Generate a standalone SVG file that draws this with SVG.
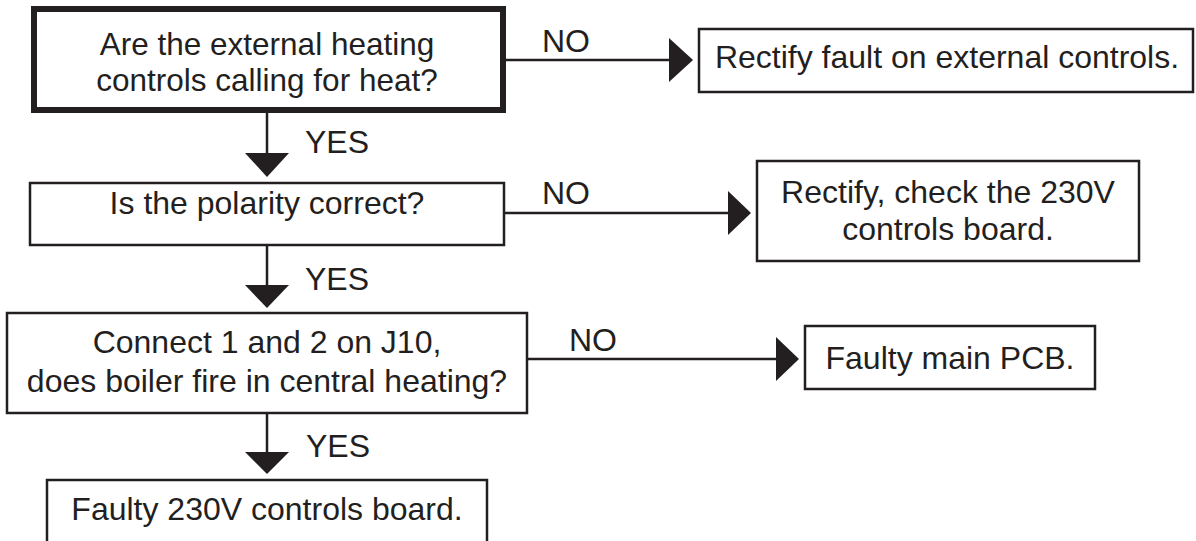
<svg xmlns="http://www.w3.org/2000/svg" width="1196" height="541" viewBox="0 0 1196 541">
<style>
  .box { fill: #ffffff; stroke: #231f20; stroke-width: 2.5; }
  .thick { fill: #ffffff; stroke: #231f20; stroke-width: 6; }
  .t { font-family: "Liberation Sans", Arial, sans-serif; font-size: 32px; fill: #231f20; }
  .c { text-anchor: middle; }
  .ln { stroke: #231f20; stroke-width: 2.5; fill: none; }
  .ah { fill: #231f20; stroke: none; }
</style>
<rect width="1196" height="541" fill="#ffffff"/>
<g id="connectors">
  <line class="ln" x1="267" y1="112" x2="267" y2="154"/>
  <polygon class="ah" points="245,153 289,153 267,177"/>
  <text class="t" x="305" y="153">YES</text>
  <line class="ln" x1="267" y1="245" x2="267" y2="286"/>
  <polygon class="ah" points="245,285 289,285 267,308"/>
  <text class="t" x="305" y="290">YES</text>
  <line class="ln" x1="267" y1="413" x2="267" y2="453"/>
  <polygon class="ah" points="245,452 289,452 267,474"/>
  <text class="t" x="306" y="457">YES</text>
  <line class="ln" x1="503" y1="60" x2="670" y2="60"/>
  <polygon class="ah" points="669,38 669,82 693,60"/>
  <text class="t" x="542" y="52">NO</text>
  <line class="ln" x1="504" y1="213" x2="729" y2="213"/>
  <polygon class="ah" points="728,191 728,235 751,213"/>
  <text class="t" x="542" y="204">NO</text>
  <line class="ln" x1="527" y1="359" x2="777" y2="359"/>
  <polygon class="ah" points="776,337 776,381 799,359"/>
  <text class="t" x="569" y="351">NO</text>
</g>
<g id="n1">
  <rect class="thick" x="34" y="9" width="469" height="101"/>
  <text class="t c" x="267" y="55" style="font-size:31.5px">Are the external heating</text>
  <text class="t c" x="267" y="91" style="font-size:31.5px">controls calling for heat?</text>
</g>
<g id="n2">
  <rect class="box" x="699" y="29" width="494" height="63"/>
  <text class="t c" x="947" y="68">Rectify fault on external controls.</text>
</g>
<g id="n3">
  <rect class="box" x="30" y="183" width="474" height="62"/>
  <text class="t c" x="267" y="214">Is the polarity correct?</text>
</g>
<g id="n4">
  <rect class="box" x="757" y="161" width="382" height="100"/>
  <text class="t c" x="948" y="203">Rectify, check the 230V</text>
  <text class="t c" x="948" y="240">controls board.</text>
</g>
<g id="n5">
  <rect class="box" x="7" y="313" width="520" height="100"/>
  <text class="t c" x="267" y="353">Connect 1 and 2 on J10,</text>
  <text class="t c" x="267" y="392">does boiler fire in central heating?</text>
</g>
<g id="n6">
  <rect class="box" x="805" y="326" width="290" height="63"/>
  <text class="t c" x="950" y="369">Faulty main PCB.</text>
</g>
<g id="n7">
  <rect class="box" x="47" y="480" width="440" height="64"/>
  <text class="t c" x="267" y="520">Faulty 230V controls board.</text>
</g>
</svg>
